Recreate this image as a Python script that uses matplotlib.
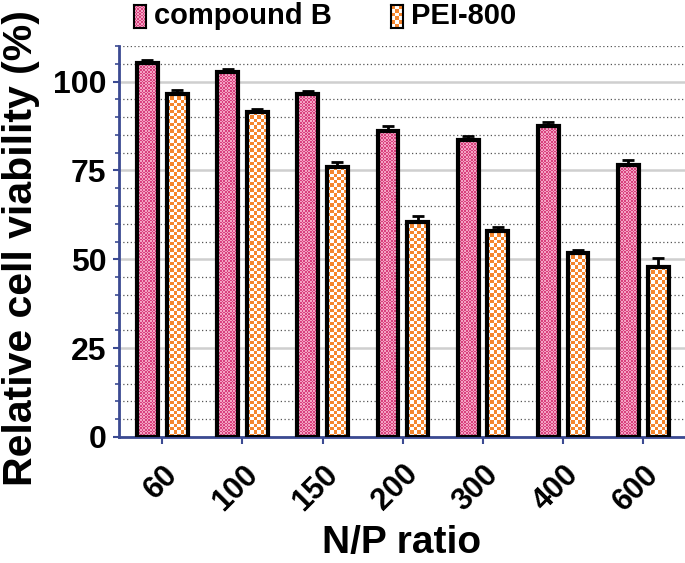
import numpy as np
import matplotlib
matplotlib.use("Agg")
import matplotlib.pyplot as plt
from matplotlib.ticker import MultipleLocator

plt.rcParams["font.family"] = ["Liberation Sans", "DejaVu Sans"]
plt.rcParams["font.weight"] = "bold"

# data
ratios = ["60", "100", "150", "200", "300", "400", "600"]
compound_b = [105.2, 102.8, 96.5, 86.0, 83.5, 87.6, 76.5]
compound_b_err = [1.0, 0.6, 0.9, 1.5, 1.3, 0.9, 1.3]
pei_800 = [96.5, 91.4, 75.9, 60.5, 58.0, 51.9, 47.8]
pei_800_err = [1.2, 1.0, 1.4, 1.6, 1.2, 0.6, 2.5]

PINK = ("#d9417e", "#f3a3c3")
ORANGE = ("#f5862e", "#ffffff")
AXIS_BLUE = "#3b4a92"

W, H = 685, 563


def checker(nx, ny, colors):
    c0 = np.array(matplotlib.colors.to_rgb(colors[0]))
    c1 = np.array(matplotlib.colors.to_rgb(colors[1]))
    ii, jj = np.indices((ny, nx))
    mask = ((ii + jj) % 2 == 0)[..., None]
    return np.where(mask, c0, c1)


fig = plt.figure(figsize=(W / 100, H / 100), dpi=100)
# axes box: left spine at x=119, bottom at y=437, top at y=46, right at image edge
ax = fig.add_axes([119 / W, 1 - 437 / H, (W - 119) / W, (437 - 46) / H])

x = np.arange(len(ratios))
width = 0.26
offset = 0.185
px_per_unit_y = (437 - 46) / 110.0
px_per_unit_x = 80.0

ax.errorbar(x - offset, compound_b, yerr=compound_b_err, fmt="none",
            ecolor="black", elinewidth=2, capsize=4.5, capthick=2, zorder=1)
ax.errorbar(x + offset, pei_800, yerr=pei_800_err, fmt="none",
            ecolor="black", elinewidth=2, capsize=4.5, capthick=2, zorder=1)

series = [(x - offset, compound_b, PINK, 1.6), (x + offset, pei_800, ORANGE, 3.3)]
for xs, vals, cols, cell in series:
    bars = ax.bar(xs, vals, width=width, facecolor="none", edgecolor="black",
                  linewidth=3, zorder=3)
    for b in bars:
        x0, w, h = b.get_x(), b.get_width(), b.get_height()
        nx = max(2, int(round(w * px_per_unit_x / cell)))
        ny = max(2, int(round(h * px_per_unit_y / cell)))
        im = ax.imshow(checker(nx, ny, cols), extent=(x0, x0 + w, 0, h),
                       aspect="auto", interpolation="nearest", zorder=2)
        im.set_clip_path(b)

ax.set_xlim(-0.54, 6.52)
ax.set_ylim(0, 110)
ax.set_aspect("auto")

ax.yaxis.set_major_locator(MultipleLocator(25))
ax.yaxis.set_minor_locator(MultipleLocator(5))
ax.grid(which="major", axis="y", color="#cfcfcf", linewidth=1.8, zorder=0)
ax.grid(which="minor", axis="y", color="#555555", linestyle=(0, (1, 2)),
        linewidth=0.9, zorder=0)
ax.set_axisbelow(True)

ax.set_xticks(x)
ax.set_xticklabels(ratios, rotation=45, ha="right", va="top",
                   rotation_mode="anchor", fontsize=22, fontweight="bold")
ax.tick_params(axis="x", colors=AXIS_BLUE, labelcolor="black", length=5,
               width=1.5, pad=11)
ax.tick_params(axis="y", which="major", colors=AXIS_BLUE, labelcolor="black",
               length=4, width=1.5, labelsize=23, pad=5)
ax.tick_params(axis="y", which="minor", colors=AXIS_BLUE, length=3, width=1.2)
for lab in ax.get_yticklabels():
    lab.set_fontweight("bold")

for side in ["top", "right"]:
    ax.spines[side].set_visible(False)
for side in ["left", "bottom"]:
    ax.spines[side].set_color(AXIS_BLUE)
    ax.spines[side].set_linewidth(2)

ax.set_ylabel("Relative cell viability (%)", fontsize=29.5, fontweight="bold")
ax.yaxis.set_label_coords(-117 / (W - 119), (437 - 248) / (437 - 46))
ax.yaxis.label.set_va("top")
ax.set_xlabel("N/P ratio", fontsize=28, fontweight="bold")
ax.xaxis.set_label_coords(0.5, -(561 - 437) / (437 - 46))
ax.xaxis.label.set_va("bottom")

# legend drawn as swatches + text above the axes
legend_items = [("compound B", PINK, 1.6, 134), ("PEI-800", ORANGE, 3.3, 391)]
for label, cols, cell, lx in legend_items:
    sw = fig.add_axes([lx / W, 1 - 28 / H, 12 / W, 23 / H])
    sw.imshow(checker(int(12 / cell), int(23 / cell), cols), aspect="auto",
              interpolation="nearest")
    sw.set_xticks([])
    sw.set_yticks([])
    for s in sw.spines.values():
        s.set_linewidth(1.5)
        s.set_color("black")
    fig.text((lx + 20) / W, 1 - 16 / H, label, fontsize=21, fontweight="bold",
             va="center", ha="left")

fig.savefig("out.png", dpi=100)
